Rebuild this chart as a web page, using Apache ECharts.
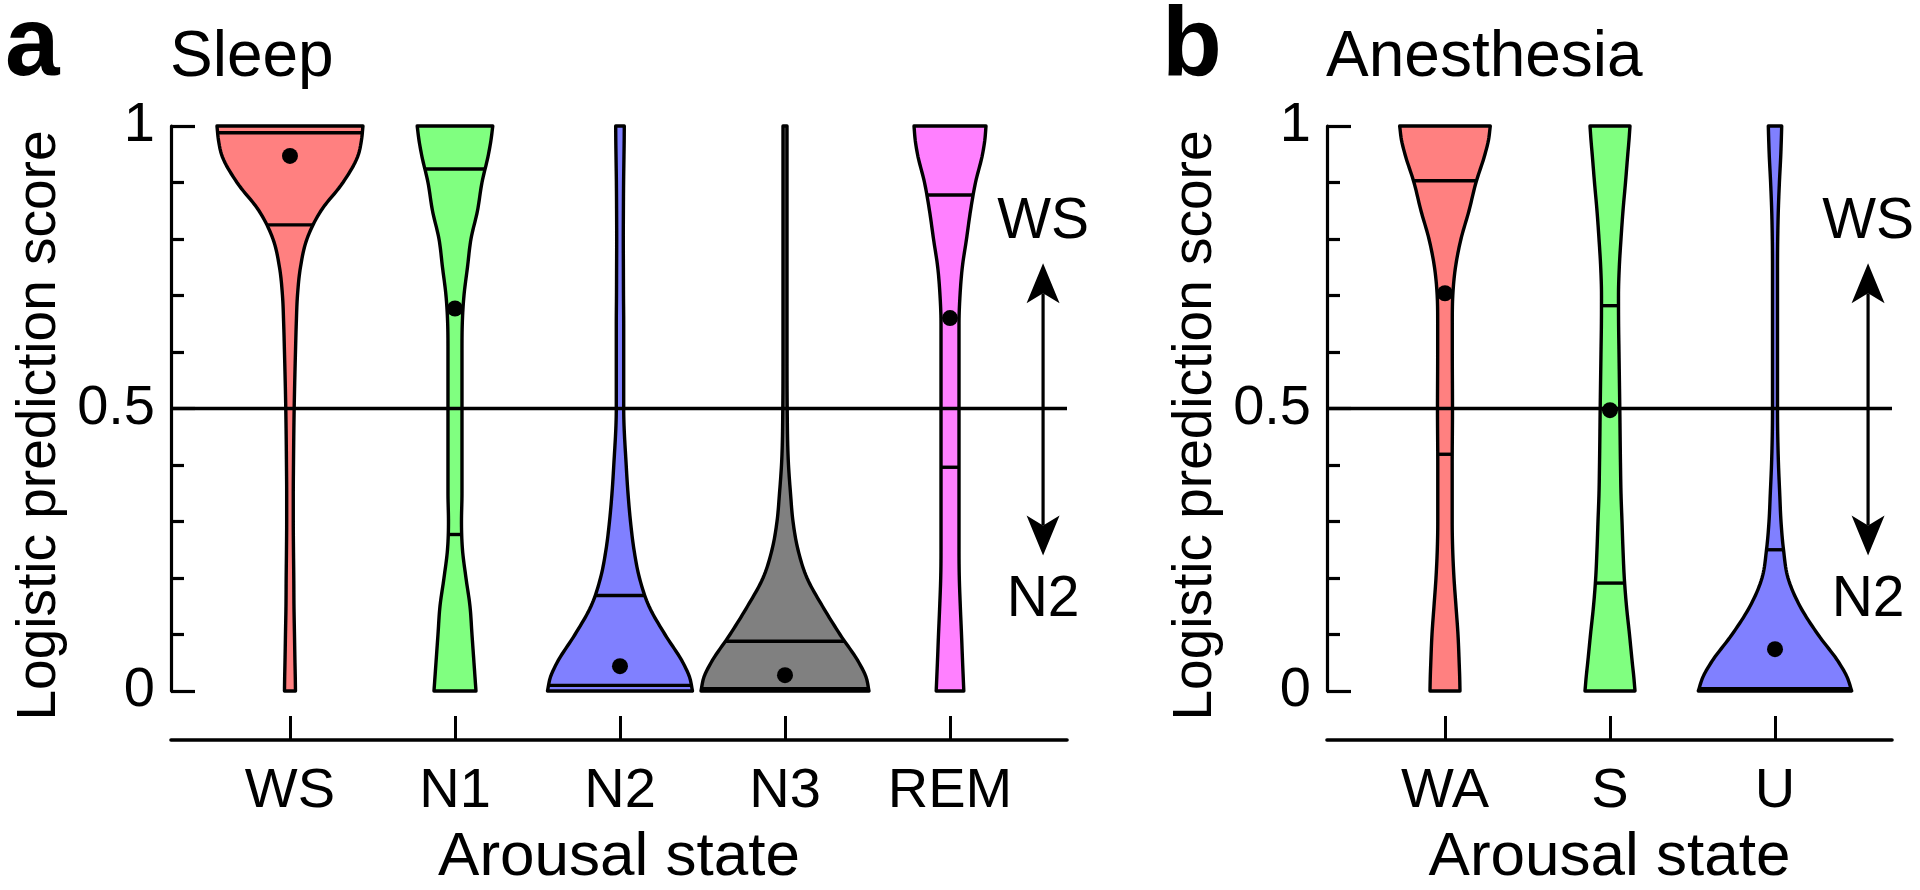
<!DOCTYPE html>
<html>
<head>
<meta charset="utf-8">
<script src="https://cdn.jsdelivr.net/npm/echarts@6/dist/echarts.min.js"></script>
<style>
html,body{margin:0;padding:0;background:#fff;}
#c{width:1920px;height:890px;}
</style>
</head>
<body>
<div id="c"></div>
<script>
// ---------------- DATA ----------------
const sleepStates = ['WS', 'N1', 'N2', 'N3', 'REM'];
const anesthesiaStates = ['WA', 'S', 'U'];
const yTickValues = [0, 0.5, 1];

// score levels at which the violin half-widths (relative density) were read
const yLevels = [0, 0.025, 0.05, 0.1, 0.15, 0.2, 0.25, 0.3, 0.35, 0.4, 0.5, 0.6, 0.65, 0.7, 0.75, 0.8, 0.85, 0.9, 0.95, 0.975, 1];

// Sleep violins (relative density at yLevels)
const densWS  = [5.5, 5.3, 5.0, 4.5, 4.0, 3.8, 3.5, 3.3, 3.3, 3.5, 4.2, 5.5, 6.3, 7.5, 10.5, 17, 31, 53, 68.5, 71.5, 73];
const densN1  = [21, 20, 19, 17, 15, 11, 7.5, 6.5, 7, 7, 7, 7, 7.3, 9, 12.5, 16, 22.5, 27, 33.5, 36, 37.8];
const densN2  = [72.5, 69.5, 63, 45, 29, 19.5, 14, 10.5, 8, 6.2, 3.7, 3.7, 3.7, 3.5, 3.4, 3.3, 3.4, 3.6, 4, 4.2, 4.3];
const densN3  = [84, 81, 74, 55, 37.5, 22, 13, 8, 5.5, 3.5, 2.2, 2, 2, 2, 2, 2, 2, 2, 2, 2, 2];
const densREM = [13.8, 13.2, 12.6, 11.5, 10.3, 9.3, 9, 9, 9, 9, 9, 9, 9, 10, 12.3, 16.5, 20.5, 25.5, 32.5, 34.8, 36];

// Anesthesia violins
const densWA  = [15, 14.7, 14.2, 13, 11, 9, 7.7, 7.2, 7.2, 7.2, 7.5, 7.3, 7.3, 7.8, 10.5, 16, 24, 31, 40, 43.5, 45.3];
const densS   = [25, 23.8, 22.3, 19.5, 16.5, 14.3, 13, 12, 11, 10.5, 9.8, 9, 8.6, 8.5, 9.3, 11, 13, 15.5, 17.8, 19, 20];
const densU   = [76.7, 72, 64, 43, 25, 13, 8.5, 6, 4.7, 3.5, 2.5, 2.5, 2.5, 2.5, 2.5, 2.7, 3.3, 4.4, 5.8, 6.3, 6.7];

// quartile lines and means
const sleepQuartiles = [[0.825, 0.988], [0.277, 0.924], [0.01, 0.169], [0.004, 0.088], [0.396, 0.878]];
const sleepMeans = [0.947, 0.677, 0.044, 0.028, 0.66];
const anesQuartiles = [[0.419, 0.903], [0.191, 0.682], [0.004, 0.25]];
const anesMeans = [0.704, 0.497, 0.074];

// direction annotation
const arrowRange = [0.24, 0.757];
const arrowLabels = ['WS', 'N2'];
const arrowLabelY = [0.829, 0.161];
const sleepArrowX = 4.564;
const anesArrowX = 2.564;

// ---------------- STYLE ----------------
const FONT = '"Liberation Sans", Arial, Helvetica, sans-serif';
const sleepColors = ['#FF8080', '#80FF80', '#8080FF', '#808080', '#FF80FF'];
const anesColors = ['#FF8080', '#80FF80', '#8080FF'];
const PX_PER_UNIT = 165;   // density units are read in px of half width
const LW = 3.4;

// monotone cubic of half-width vs score (for drawing a smooth outline)
function makeProfile(levels, dens) {
  const n = levels.length;
  const h = [], d = [];
  for (let k = 0; k < n - 1; k++) { h.push(levels[k + 1] - levels[k]); d.push((dens[k + 1] - dens[k]) / h[k]); }
  const m = new Array(n);
  m[0] = d[0]; m[n - 1] = d[n - 2];
  for (let k = 1; k < n - 1; k++) {
    m[k] = (d[k - 1] * d[k] <= 0) ? 0 : (d[k - 1] * h[k] + d[k] * h[k - 1]) / (h[k - 1] + h[k]);
  }
  for (let k = 0; k < n - 1; k++) {
    if (d[k] === 0) { m[k] = 0; m[k + 1] = 0; continue; }
    const a = m[k] / d[k], b = m[k + 1] / d[k];
    const s = a * a + b * b;
    if (s > 9) { const t = 3 / Math.sqrt(s); m[k] = t * a * d[k]; m[k + 1] = t * b * d[k]; }
  }
  return function (y) {
    let k = 0;
    while (k < n - 2 && y > levels[k + 1]) k++;
    const t = (y - levels[k]) / h[k], t2 = t * t, t3 = t2 * t;
    return (2 * t3 - 3 * t2 + 1) * dens[k] + (t3 - 2 * t2 + t) * h[k] * m[k] +
           (-2 * t3 + 3 * t2) * dens[k + 1] + (t3 - t2) * h[k] * m[k + 1];
  };
}

const sleepProfiles = [densWS, densN1, densN2, densN3, densREM].map(d => makeProfile(yLevels, d));
const anesProfiles = [densWA, densS, densU].map(d => makeProfile(yLevels, d));

function violinRenderer(profiles, quartiles, colors) {
  return function (params, api) {
    const i = api.value(0);
    const f = profiles[i];
    const half = y => Math.max(f(y), 0.8) / PX_PER_UNIT;
    const N = 200, pts = [];
    for (let k = 0; k <= N; k++) { const y = k / N; pts.push(api.coord([i - half(y), y])); }
    for (let k = N; k >= 0; k--) { const y = k / N; pts.push(api.coord([i + half(y), y])); }
    const children = [{
      type: 'polygon', shape: { points: pts },
      style: { fill: colors[i], stroke: '#000', lineWidth: LW, lineJoin: 'round' }
    }];
    quartiles[i].forEach(q => {
      const w = half(q);
      const a = api.coord([i - w, q]), b = api.coord([i + w, q]);
      children.push({ type: 'line', shape: { x1: a[0], y1: a[1], x2: b[0], y2: b[1] },
        style: { stroke: '#000', lineWidth: LW } });
    });
    return { type: 'group', children };
  };
}

function arrowRenderer(params, api) {
  const x = api.value(0);
  const pb = api.coord([x, api.value(1)]);
  const pt = api.coord([x, api.value(2)]);
  const HL = 40, HW = 16.5, NOTCH = 10;
  const cx = pb[0];
  const children = [
    { type: 'line', shape: { x1: cx, y1: pt[1] + HL - NOTCH, x2: cx, y2: pb[1] - HL + NOTCH },
      style: { stroke: '#000', lineWidth: 3.2 } },
    { type: 'polygon', shape: { points: [[cx, pt[1]], [cx - HW, pt[1] + HL], [cx, pt[1] + HL - NOTCH], [cx + HW, pt[1] + HL]] },
      style: { fill: '#000' } },
    { type: 'polygon', shape: { points: [[cx, pb[1]], [cx - HW, pb[1] - HL], [cx, pb[1] - HL + NOTCH], [cx + HW, pb[1] - HL]] },
      style: { fill: '#000' } }
  ];
  arrowLabels.forEach((t, j) => {
    const p = api.coord([x, arrowLabelY[j]]);
    children.push({ type: 'text', x: p[0], y: p[1],
      style: { text: t, font: '57px ' + FONT, fill: '#000', align: 'center', verticalAlign: 'middle',
               textAlign: 'center', textVerticalAlign: 'middle' } });
  });
  return { type: 'group', children };
}

function xAxisCfg(gridIndex, names, min, max) {
  const vals = names.map((_, i) => i);
  return {
    gridIndex, type: 'value', min, max, position: 'bottom', offset: 49,
    name: 'Arousal state', nameLocation: 'middle', nameGap: 87,
    nameTextStyle: { fontSize: 62, fontFamily: FONT, color: '#000' },
    axisLine: { show: true, onZero: false, lineStyle: { color: '#000', width: 3.6 } },
    axisTick: { show: true, inside: true, length: 24, customValues: vals, lineStyle: { color: '#000', width: 3 } },
    axisLabel: { show: true, customValues: vals, margin: 24, fontSize: 56, fontFamily: FONT, color: '#000',
                 formatter: v => names[Math.round(v)] },
    splitLine: { show: false }, minorTick: { show: false }
  };
}

function yAxisCfg(gridIndex) {
  return {
    gridIndex, type: 'value', min: 0, max: 1, interval: 0.5,
    name: 'Logistic prediction score', nameLocation: 'middle', nameGap: 104,
    nameTextStyle: { fontSize: 55, fontFamily: FONT, color: '#000', padding: [0, 34, 0, 0] },
    axisLine: { show: true, onZero: false, lineStyle: { color: '#000', width: 3.2 } },
    axisTick: { show: true, inside: true, length: 24, lineStyle: { color: '#000', width: 3.2 } },
    minorTick: { show: true, splitNumber: 5, length: 13, lineStyle: { color: '#000', width: 3.2 } },
    axisLabel: { show: true, margin: 16, fontSize: 56, fontFamily: FONT, color: '#000',
                 formatter: v => yTickValues.includes(v) ? String(v) : '' },
    splitLine: { show: false }, minorSplitLine: { show: false }
  };
}

const halfLine = {
  silent: true, symbol: 'none', label: { show: false }, emphasis: { disabled: true },
  lineStyle: { color: '#000', width: LW, type: 'solid' }, data: [{ yAxis: 0.5 }]
};

const option = {
  animation: false,
  backgroundColor: '#fff',
  textStyle: { fontFamily: FONT },
  grid: [
    { left: 171, top: 126, width: 896, height: 565, outerBoundsMode: 'none', containLabel: false },
    { left: 1327, top: 126, width: 565, height: 565, outerBoundsMode: 'none', containLabel: false }
  ],
  xAxis: [
    xAxisCfg(0, sleepStates, -0.721, 4.709),
    xAxisCfg(1, anesthesiaStates, -0.715, 2.709)
  ],
  yAxis: [yAxisCfg(0), yAxisCfg(1)],
  graphic: [
    { type: 'text', x: 5, y: 48, style: { text: 'a', font: 'bold 98px ' + FONT, fill: '#000', verticalAlign: 'middle', textVerticalAlign: 'middle' } },
    { type: 'text', x: 170, y: 58, style: { text: 'Sleep', font: '64px ' + FONT, fill: '#000', verticalAlign: 'middle', textVerticalAlign: 'middle' } },
    { type: 'text', x: 1162, y: 48, style: { text: 'b', font: 'bold 98px ' + FONT, fill: '#000', verticalAlign: 'middle', textVerticalAlign: 'middle' } },
    { type: 'text', x: 1326, y: 58, style: { text: 'Anesthesia', font: '64px ' + FONT, fill: '#000', verticalAlign: 'middle', textVerticalAlign: 'middle' } }
  ],
  series: [
    { type: 'custom', name: 'sleep violins', xAxisIndex: 0, yAxisIndex: 0, z: 2, silent: true,
      renderItem: violinRenderer(sleepProfiles, sleepQuartiles, sleepColors),
      data: sleepStates.map((_, i) => [i]) },
    { type: 'custom', name: 'anesthesia violins', xAxisIndex: 1, yAxisIndex: 1, z: 2, silent: true,
      renderItem: violinRenderer(anesProfiles, anesQuartiles, anesColors),
      data: anesthesiaStates.map((_, i) => [i]) },
    { type: 'custom', name: 'sleep arrow', xAxisIndex: 0, yAxisIndex: 0, z: 3, silent: true,
      renderItem: arrowRenderer, data: [[sleepArrowX, arrowRange[0], arrowRange[1]]], markLine: halfLine },
    { type: 'custom', name: 'anesthesia arrow', xAxisIndex: 1, yAxisIndex: 1, z: 3, silent: true,
      renderItem: arrowRenderer, data: [[anesArrowX, arrowRange[0], arrowRange[1]]], markLine: halfLine },
    { type: 'scatter', name: 'sleep mean', xAxisIndex: 0, yAxisIndex: 0, z: 4, silent: true,
      symbol: 'circle', symbolSize: 16, itemStyle: { color: '#000', opacity: 1 },
      data: sleepMeans.map((m, i) => [i, m]) },
    { type: 'scatter', name: 'anesthesia mean', xAxisIndex: 1, yAxisIndex: 1, z: 4, silent: true,
      symbol: 'circle', symbolSize: 16, itemStyle: { color: '#000', opacity: 1 },
      data: anesMeans.map((m, i) => [i, m]) }
  ]
};

const chart = echarts.init(document.getElementById('c'), null, { renderer: 'canvas' });
chart.setOption(option);
</script>
</body>
</html>
